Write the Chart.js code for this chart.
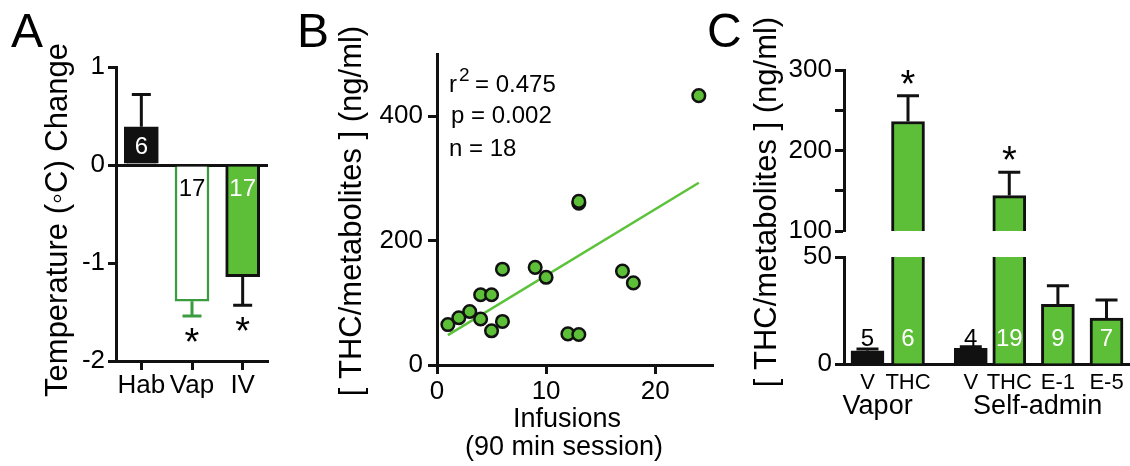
<!DOCTYPE html>
<html>
<head>
<meta charset="utf-8">
<script src="https://cdn.jsdelivr.net/npm/chart.js@4.4.1/dist/chart.umd.min.js"></script>
<style>
html, body { margin: 0; padding: 0; background: #fff; }
#wrap { position: relative; width: 1130px; height: 466px; overflow: hidden; background: #fff; }
#wrap canvas { position: absolute; left: 0; top: 0; }
.letter { position: absolute; font-family: "Liberation Sans", Arial, sans-serif; font-size: 48px; line-height: 1; color: #000; }
</style>
</head>
<body>
<div id="wrap">
  <canvas id="cA" width="1130" height="466"></canvas>
  <canvas id="cB" width="1130" height="466"></canvas>
  <canvas id="cCtop" width="1130" height="466"></canvas>
  <canvas id="cCbot" width="1130" height="466"></canvas>
  <div class="letter" style="left:11px;top:7px">A</div>
  <div class="letter" style="left:297px;top:7px">B</div>
  <div class="letter" style="left:707px;top:7px">C</div>
</div>
<script>
// ================= DATA =================
// Panel A: temperature change
const tempCategories = ['Hab', 'Vap', 'IV'];
const tempMean = [0.39, -1.39, -1.14];
const tempSem = [0.33, 0.15, 0.29];
const tempN = ['6', '17', '17'];
const tempSig = [false, true, true];
const tempTicks = [-2, -1, 0, 1];
const tempTitle = 'Temperature (\u25E6C) Change';

// Panel B: THC level vs infusions
const infusions = [1, 2, 3, 4, 5, 4, 5, 6, 6, 9, 10, 13, 13, 12, 13, 17, 18, 24];
const thcLevels = [65, 76, 86, 113, 113, 74, 55, 70, 154, 157, 141, 260, 263, 50, 49, 151, 132, 433];
const fitInfusions = [1, 24];
const fitLevels = [48, 293];
const scatterXTicks = [0, 10, 20];
const scatterYTicks = [0, 200, 400];
const statR2 = '= 0.475';
const statP = 'p = 0.002';
const statN = 'n = 18';
const levelTitle = '[ THC/metabolites ] (ng/ml)';
const scatterXTitle = ['Infusions', '(90 min session)'];

// Panel C: THC levels by group
const levelCategories = ['V', 'THC', 'V', 'THC', 'E-1', 'E-5'];
const levelMean = [6.2, 236, 7.3, 144, 27.9, 21.4];
const levelSem = [0.8, 32, 0.8, 29, 8.7, 8.5];
const levelN = ['5', '6', '4', '19', '9', '7'];
const levelSig = [false, true, false, true, false, false];
const levelGroups = ['Vapor', 'Self-admin'];
const upperTicks = [100, 150, 200, 250, 300];
const upperTickLabels = ['100', '', '200', '', '300'];
const lowerTicks = [0, 50];

// ================= LAYOUT / STYLE =================
const levelSlots = [0, 1, 2.55, 3.5, 4.7, 5.9];
const groupSlots = [0.25, 4.2];
const FONT = '"Liberation Sans", Arial, sans-serif';
const GREEN = '#5cbf37';
const DKGREEN = '#3a9c3f';
const LINEGREEN = '#5cc23a';
const BLACK = '#111111';
const W = 1130, H = 466;

Chart.defaults.font.family = FONT;
Chart.defaults.color = '#000';

function f(size) { return size + 'px ' + FONT; }

function centerText(ctx, s, x, cy, font, color) {
  ctx.save();
  ctx.font = font; ctx.fillStyle = color; ctx.textAlign = 'center'; ctx.textBaseline = 'alphabetic';
  const m = ctx.measureText(s);
  const base = cy + (m.actualBoundingBoxAscent - m.actualBoundingBoxDescent) / 2;
  ctx.fillText(s, x, base);
  ctx.restore();
}
function baseText(ctx, s, x, y, font, color, align) {
  ctx.save();
  ctx.font = font; ctx.fillStyle = color || '#000'; ctx.textAlign = align || 'center'; ctx.textBaseline = 'alphabetic';
  ctx.fillText(s, x, y);
  ctx.restore();
}
function vertText(ctx, s, baseX, cy, font) {
  ctx.save();
  ctx.translate(baseX, cy); ctx.rotate(-Math.PI / 2);
  ctx.font = font; ctx.fillStyle = '#000'; ctx.textAlign = 'center'; ctx.textBaseline = 'alphabetic';
  ctx.fillText(s, 0, 0);
  ctx.restore();
}
function errBar(ctx, x, y0, y1, cap, color) {
  ctx.save();
  ctx.strokeStyle = color; ctx.lineWidth = 3; ctx.lineCap = 'butt';
  ctx.beginPath();
  ctx.moveTo(x, y0); ctx.lineTo(x, y1);
  ctx.moveTo(x - cap / 2, y1); ctx.lineTo(x + cap / 2, y1);
  ctx.stroke();
  ctx.restore();
}
function fixedTicks(arr) { return s => { s.ticks = arr.map(v => ({ value: v })); }; }
const commonOpts = { responsive: false, animation: false, devicePixelRatio: 1,
  plugins: { legend: { display: false }, tooltip: { enabled: false } } };

// ================= PANEL A =================
const panelA = {
  id: 'panelA',
  afterDatasetsDraw(chart) {
    const ctx = chart.ctx, xs = chart.scales.x, ys = chart.scales.y;
    tempMean.forEach((m, i) => {
      const px = xs.getPixelForValue(i);
      const end = m >= 0 ? m + tempSem[i] : m - tempSem[i];
      const col = i === 1 ? DKGREEN : BLACK;
      errBar(ctx, px, ys.getPixelForValue(m), ys.getPixelForValue(end), 19, col);
      const y0 = ys.getPixelForValue(0);
      const cy = m >= 0 ? (y0 + ys.getPixelForValue(m)) / 2 : y0 + 22;
      centerText(ctx, tempN[i], px, cy, f(24), i === 1 ? '#000' : '#fff');
      if (tempSig[i]) centerText(ctx, '*', px, ys.getPixelForValue(end) + 19, f(38), '#000');
    });
  },
  afterDraw(chart) { vertText(chart.ctx, tempTitle, 67, 220, f(31)); }
};
new Chart(document.getElementById('cA'), {
  type: 'bar',
  data: { labels: tempCategories, datasets: [{
    data: tempMean,
    backgroundColor: [BLACK, '#ffffff', GREEN],
    borderColor: [BLACK, DKGREEN, BLACK],
    borderWidth: [3, 2.5, 3],
    barThickness: 34
  }]},
  options: Object.assign({}, commonOpts, {
    layout: { padding: { left: 0, top: 67, right: W - 268, bottom: 0 } },
    scales: {
      x: {
        grid: { offset: false, drawOnChartArea: false, tickLength: 9, tickWidth: 3, tickColor: BLACK },
        border: { color: BLACK, width: 3 },
        ticks: { font: { size: 26 }, padding: 0, color: '#000', maxRotation: 0, autoSkip: false },
        afterFit: s => { s.height = H - 361; }
      },
      y: {
        min: -2, max: 1, z: 1,
        afterBuildTicks: fixedTicks(tempTicks),
        grid: { drawOnChartArea: true, color: c => (c.tick && c.tick.value === 0) ? BLACK : 'rgba(0,0,0,0)',
                lineWidth: 3, tickLength: 8, tickWidth: 3, tickColor: BLACK },
        border: { color: BLACK, width: 3 },
        ticks: { font: { size: 26 }, padding: 3, color: '#000' },
        afterFit: s => { s.width = 116; }
      }
    }
  }),
  plugins: [panelA]
});

// ================= PANEL B =================
const panelB = {
  id: 'panelB',
  afterDraw(chart) {
    const ctx = chart.ctx;
    vertText(ctx, levelTitle, 361, 211, f(31));
    baseText(ctx, scatterXTitle[0], 567, 427, f(27));
    baseText(ctx, scatterXTitle[1], 564, 455, f(27));
    baseText(ctx, 'r', 449, 92, f(24), '#000', 'left');
    baseText(ctx, '2', 459, 81, f(19), '#000', 'left');
    baseText(ctx, statR2, 475, 92, f(24), '#000', 'left');
    baseText(ctx, statP, 451, 123, f(24), '#000', 'left');
    baseText(ctx, statN, 449, 156, f(24), '#000', 'left');
  }
};
new Chart(document.getElementById('cB'), {
  type: 'scatter',
  data: { datasets: [
    { type: 'scatter', data: infusions.map((x, i) => ({ x: x, y: thcLevels[i] })),
      backgroundColor: GREEN, borderColor: BLACK, borderWidth: 2.5, pointRadius: 6.3, order: 0, clip: false },
    { type: 'line', data: fitInfusions.map((x, i) => ({ x: x, y: fitLevels[i] })),
      borderColor: LINEGREEN, borderWidth: 2.5, pointRadius: 0, fill: false, order: 1 }
  ]},
  options: Object.assign({}, commonOpts, {
    layout: { padding: { left: 0, top: 54, right: W - 713, bottom: 0 } },
    scales: {
      x: {
        type: 'linear', min: 0, max: 25.3,
        afterBuildTicks: fixedTicks(scatterXTicks),
        grid: { drawOnChartArea: false, tickLength: 9, tickWidth: 3, tickColor: BLACK },
        border: { color: BLACK, width: 3 },
        ticks: { font: { size: 26 }, padding: 2, color: '#000', maxRotation: 0 },
        afterFit: s => { s.height = H - 365; }
      },
      y: {
        min: 0, max: 500,
        afterBuildTicks: fixedTicks(scatterYTicks),
        grid: { drawOnChartArea: false, tickLength: 9, tickWidth: 3, tickColor: BLACK },
        border: { color: BLACK, width: 3 },
        ticks: { font: { size: 26 }, padding: 5, color: '#000' },
        afterFit: s => { s.width = 437; }
      }
    }
  }),
  plugins: [panelB]
});

// ================= PANEL C =================
const barData = levelMean.map((v, i) => ({ x: levelSlots[i], y: v }));
const barFill = levelCategories.map(c => c === 'V' ? BLACK : GREEN);
function levelDataset() {
  return { data: barData, backgroundColor: barFill, borderColor: BLACK, borderWidth: 3, barThickness: 33, clip: 0 };
}
function levelX(display) {
  return {
    type: 'linear', min: -0.58, max: 6.48, offset: false, display: display,
    afterBuildTicks: fixedTicks(levelSlots),
    grid: { display: false, drawTicks: false, tickLength: 0, offset: false },
    border: { display: true, color: BLACK, width: 3 },
    ticks: { font: { size: 22 }, padding: 6, color: '#000', maxRotation: 0, autoSkip: false,
             callback: (v, i) => levelCategories[i] },
    afterFit: s => { s.height = display ? H - 364 : 0; }
  };
}
function levelY(min, max, ticks, labels) {
  return {
    min: min, max: max,
    afterBuildTicks: fixedTicks(ticks),
    grid: { drawOnChartArea: false, tickLength: 9, tickWidth: 3, tickColor: BLACK },
    border: { color: BLACK, width: 3 },
    ticks: { font: { size: 26 }, padding: 3, color: '#000', autoSkip: false,
             callback: labels ? ((v, i) => labels[i]) : (v => String(v)) },
    afterFit: s => { s.width = 844; }
  };
}
function drawLevelMarks(chart, lo, hi) {
  const ctx = chart.ctx, xs = chart.scales.x, ys = chart.scales.y;
  levelMean.forEach((m, i) => {
    if (m < lo || m > hi) return;
    const px = xs.getPixelForValue(levelSlots[i]);
    const top = m + levelSem[i];
    const yTop = ys.getPixelForValue(top);
    errBar(ctx, px, ys.getPixelForValue(m), yTop, 22, BLACK);
    if (levelSig[i]) centerText(ctx, '*', px, yTop - 19, f(38), '#000');
  });
}
const panelCtop = {
  id: 'panelCtop',
  afterDatasetsDraw(chart) { drawLevelMarks(chart, 100, 300); }
};
const panelCbot = {
  id: 'panelCbot',
  afterDatasetsDraw(chart) {
    const ctx = chart.ctx, xs = chart.scales.x, ys = chart.scales.y;
    drawLevelMarks(chart, 0, 50);
    levelN.forEach((n, i) => {
      const px = xs.getPixelForValue(levelSlots[i]);
      centerText(ctx, n, px, ys.getPixelForValue(0) - 27, f(24), levelCategories[i] === 'V' ? '#000' : '#fff');
    });
    levelGroups.forEach((g, i) => {
      baseText(ctx, g, xs.getPixelForValue(groupSlots[i]), 414, f(27));
    });
  },
  afterDraw(chart) { vertText(chart.ctx, levelTitle, 776, 202, f(31)); }
};
new Chart(document.getElementById('cCtop'), {
  type: 'bar',
  data: { datasets: [levelDataset()] },
  options: Object.assign({}, commonOpts, {
    layout: { padding: { left: 0, top: 70, right: 0, bottom: H - 231 } },
    scales: { x: levelX(false), y: levelY(100, 300, upperTicks, upperTickLabels) }
  }),
  plugins: [panelCtop]
});
new Chart(document.getElementById('cCbot'), {
  type: 'bar',
  data: { datasets: [levelDataset()] },
  options: Object.assign({}, commonOpts, {
    layout: { padding: { left: 0, top: 257, right: 0, bottom: 0 } },
    scales: { x: levelX(true), y: levelY(0, 50, lowerTicks, null) }
  }),
  plugins: [panelCbot]
});
</script>
</body>
</html>
